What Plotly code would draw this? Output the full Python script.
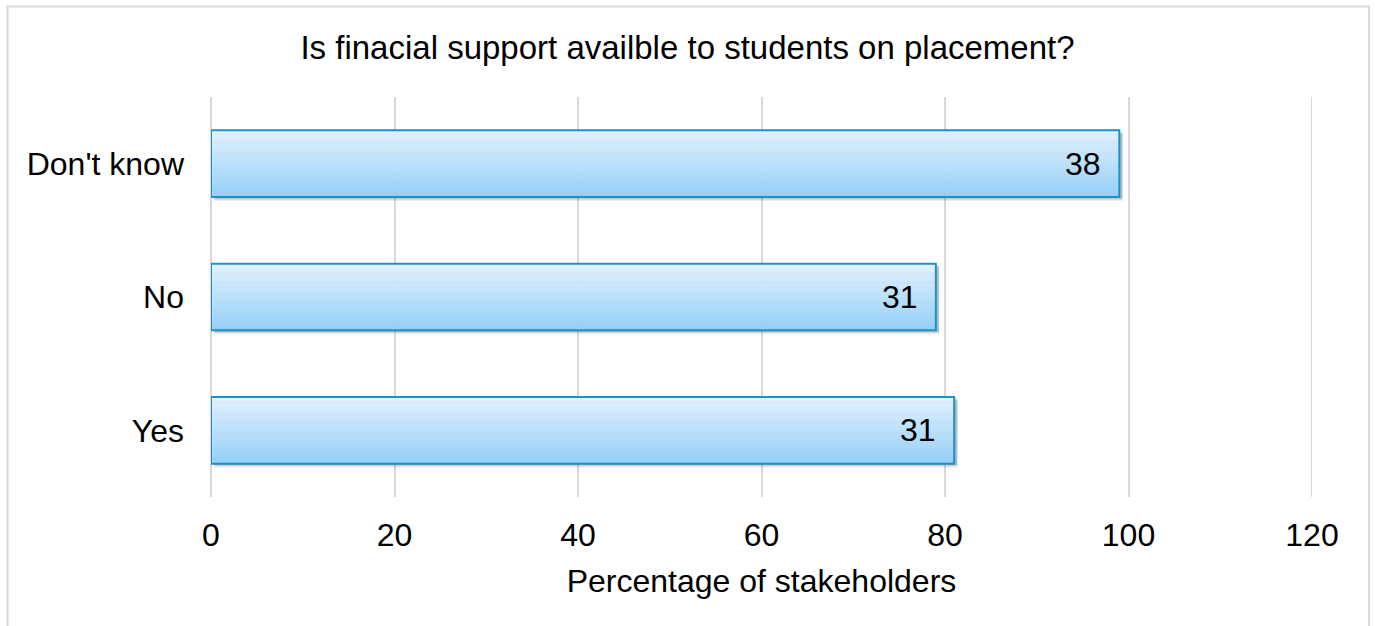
import plotly.graph_objects as go

# Data
categories = ["Yes", "No", "Don't know"]
bar_values = [81, 79, 99]
label_texts = ["31", "31", "38"]
x_ticks = [0, 20, 40, 60, 80, 100, 120]

title_text = "Is finacial support availble to students on placement?"
x_title = "Percentage of stakeholders"

FONT = "Liberation Sans, Arial, Helvetica, sans-serif"
W, H = 1375, 626
ML, MR, MT, MB = 211, 63, 97, 129
PW, PH = W - ML - MR, H - MT - MB

fig = go.Figure()

BAR_W = 0.5
# soft shadow
for dy, alpha in [(0.030, 0.07), (0.020, 0.10), (0.012, 0.12)]:
    fig.add_trace(go.Bar(
        y=categories, x=bar_values, base=0.35, orientation="h",
        width=BAR_W, offset=-BAR_W / 2 - dy,
        marker=dict(color=f"rgba(0,0,0,{alpha})", line=dict(width=0)),
        hoverinfo="skip", showlegend=False,
    ))

# gradient strips (bottom darker, top lighter)
N = 30
top = (226, 241, 254)
bot = (148, 209, 250)
for i in range(N):
    t = i / (N - 1)
    c = tuple(round(bot[k] + (top[k] - bot[k]) * t) for k in range(3))
    fig.add_trace(go.Bar(
        y=categories, x=bar_values, orientation="h",
        width=BAR_W / N + 0.002, offset=-BAR_W / 2 + i * BAR_W / N,
        marker=dict(color=f"rgb{c}", line=dict(width=0)),
        hoverinfo="skip", showlegend=False,
    ))

# outline
fig.add_trace(go.Bar(
    y=categories, x=bar_values, orientation="h",
    width=BAR_W, offset=-BAR_W / 2,
    marker=dict(color="rgba(0,0,0,0)", line=dict(color="#1a93c9", width=2)),
    showlegend=False,
))

for cat, v, txt in zip(categories, bar_values, label_texts):
    fig.add_annotation(
        x=v, y=cat, text=txt, showarrow=False, xanchor="right",
        xshift=-16, font=dict(size=32, color="#000000", family=FONT),
    )

# gridline at the last tick (plotly skips it at the range edge)
fig.add_shape(
    type="line", xref="x", yref="paper", x0=x_ticks[-1], x1=x_ticks[-1], y0=0, y1=1,
    line=dict(color="#d9d9d9", width=2), layer="below",
)

# outer chart border
fig.add_shape(
    type="rect", xref="paper", yref="paper",
    x0=(7.5 - ML) / PW, x1=(1369 - ML) / PW,
    y0=(H - MB - 640) / PH, y1=(H - MB - 6.5) / PH,
    line=dict(color="#d9d9d9", width=2), fillcolor="rgba(0,0,0,0)", layer="below",
)

fig.update_layout(
    width=W, height=H,
    margin=dict(l=ML, r=MR, t=MT, b=MB),
    paper_bgcolor="white", plot_bgcolor="white",
    barmode="overlay",
    font=dict(family=FONT, size=32, color="#000000"),
    title=dict(text=title_text, x=0.5, xanchor="center", y=1 - 47 / H, yanchor="middle",
               font=dict(size=33, family=FONT, color="#000000")),
    xaxis=dict(
        range=[0, 120], tickvals=x_ticks, showgrid=True, gridcolor="#d9d9d9", gridwidth=2,
        zeroline=True, zerolinecolor="#d9d9d9", zerolinewidth=2,
        showline=False, ticks="", ticklabelstandoff=16,
        tickfont=dict(size=32, family=FONT),
        title=dict(text=x_title, standoff=17, font=dict(size=32, family=FONT)),
        fixedrange=True,
    ),
    yaxis=dict(
        categoryorder="array", categoryarray=categories, range=[-0.5, 2.5],
        showgrid=False, zeroline=False, showline=False, ticks="",
        ticklabelstandoff=26, tickfont=dict(size=32, family=FONT), fixedrange=True,
    ),
)

fig.write_html(
    "out.html",
    config={"displayModeBar": False},
    post_script="document.body.style.margin='0px';document.body.style.overflow='hidden';",
)
